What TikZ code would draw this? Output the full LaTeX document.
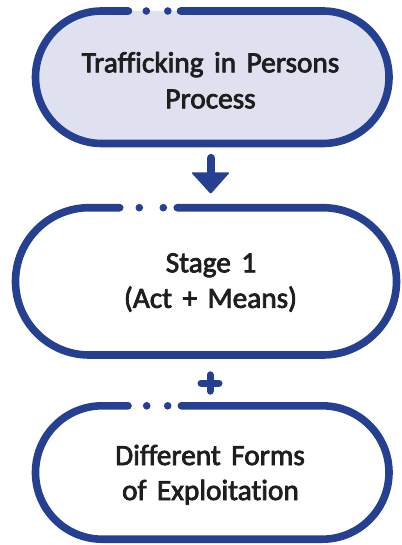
\documentclass[tikz,border=0pt]{standalone}
\usepackage{fontspec}
\newfontfamily\lblfont[FakeBold=2.6,Ligatures=NoCommon]{Carlito}
\newcommand{\lblsetup}{\lblfont\fontsize{29.3}{34}\selectfont\spaceskip=10.5pt\relax}
\definecolor{pillblue}{RGB}{38,64,145}
\definecolor{pillfill}{RGB}{224,225,240}
\definecolor{txt}{RGB}{30,30,30}
\newcommand{\mypill}[8]{%
  \pgfmathsetmacro{\rr}{(#3-(#4))/2}%
  \draw[pill] (#6,#3) -- ({#2-\rr},#3) arc[start angle=90,end angle=-90,radius=\rr pt]
     -- ({#1+\rr},#4) arc[start angle=270,end angle=90,radius=\rr pt] -- (#5,#3);
  \fill[pillblue] (#7,#3) circle[radius=3.8pt];
  \fill[pillblue] (#8,#3) circle[radius=3.8pt];
}
\begin{document}
\begin{tikzpicture}[x=1pt,y=1pt,
  pill/.style={draw=pillblue,line width=7.6pt,line cap=round},
  lbl/.style={anchor=base,inner sep=0pt,text=txt,font=\lblsetup}]
\useasboundingbox (0,0) rectangle (401,-545);
% box 1
\fill[pillfill,rounded corners=66.25pt] (35.5,-143.5) rectangle (389,-11);
\mypill{35.5}{389}{-11}{-143.5}{128.5}{180.5}{146.3}{167.8}
\node[lbl] (t1a) at (210.5,-72.3) {Trafficking in Persons};
\node[lbl] (t1b) at (210.5,-108.3) {Process};
% arrow
\coordinate (arTop) at (211,-158);
\coordinate (arMid) at (211,-176);
\draw[pillblue,line width=8.3pt,line cap=round] (arTop) -- (arMid);
\fill[pillblue,rounded corners=1.2pt] (191,-172.3) -- (230,-172.3) -- (210.7,-194) -- cycle;
% box 2
\mypill{15.5}{396.5}{-207.7}{-355}{119.75}{177.25}{139.3}{163.3}
\node[lbl] (t2a) at (211,-272.3) {Stage 1};
\node[lbl] (t2b) at (210.5,-307.8) {(Act + Means)};
% plus
\coordinate (pc) at (210,-383);
\draw[pillblue,line width=7pt,line cap=round] ([xshift=-9pt]pc) -- ([xshift=9pt]pc);
\draw[pillblue,line width=7pt,line cap=round] ([yshift=8.2pt]pc) -- ([yshift=-8.2pt]pc);
% box 3
\mypill{35.5}{389}{-405.8}{-539.2}{128}{181.4}{146.7}{167.7}
\node[lbl] (t3a) at (210,-465) {Different Forms};
\node[lbl] (t3b) at (210.5,-500) {of Exploitation};
\end{tikzpicture}
\end{document}
